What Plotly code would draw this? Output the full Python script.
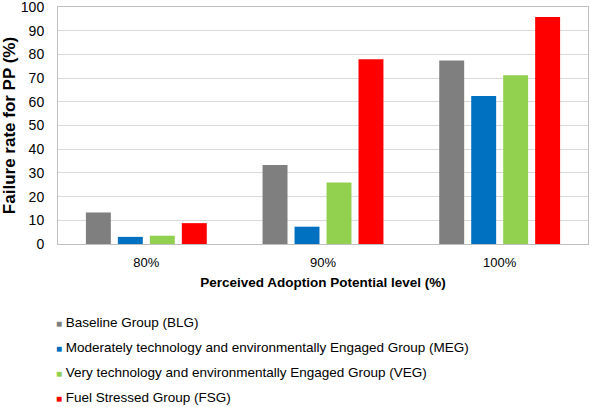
import plotly.graph_objects as go

categories = ["80%", "90%", "100%"]
series_names = [
    "Baseline Group (BLG)",
    "Moderately technology and environmentally Engaged Group (MEG)",
    "Very technology and environmentally Engaged Group (VEG)",
    "Fuel Stressed Group (FSG)",
]
blg = [13.3, 33.3, 77.4]
meg = [3.0, 7.3, 62.5]
veg = [3.5, 26.0, 71.2]
fsg = [8.8, 78.0, 95.8]
colors = ["#7f7f7f", "#0070c0", "#92d050", "#ff0000"]
y_ticks = [0, 10, 20, 30, 40, 50, 60, 70, 80, 90, 100]

fig = go.Figure()
for i, (name, vals) in enumerate(zip(series_names, [blg, meg, veg, fsg])):
    fig.add_trace(go.Bar(
        x=categories, y=vals, name=name,
        marker=dict(color=colors[i], line=dict(width=0)),
        showlegend=False,
    ))

# legend drawn as text entries (square swatch + series name)
plot_top, plot_bottom, plot_left, plot_w = 7, 244, 58, 530
row_px = [322.7, 347.5, 372.5, 397]
for i, name in enumerate(series_names):
    fig.add_annotation(
        xref="paper", yref="paper",
        x=(54 - plot_left) / plot_w, y=(plot_bottom - row_px[i]) / (plot_bottom - plot_top),
        xanchor="left", yanchor="middle", showarrow=False,
        text=f'<span style="color:{colors[i]};font-size:10px">■</span> {name}',
        font=dict(size=13.5, color="#000000"),
    )

font_family = "Liberation Sans, Arial, sans-serif"
fig.update_layout(
    width=591, height=407,
    margin=dict(l=58, r=3, t=7, b=163, autoexpand=False),
    paper_bgcolor="white", plot_bgcolor="white",
    barmode="group", bargap=0.276, bargroupgap=0.22,
    font=dict(family=font_family, color="#000000"),
    xaxis=dict(
        showline=True, linecolor="#bfbfbf", linewidth=1, mirror=True,
        tickfont=dict(size=13), ticks="", automargin=False, ticklabelstandoff=6,
        title=dict(text="<b>Perceived Adoption Potential level (%)</b>", font=dict(size=13.5), standoff=8),
    ),
    yaxis=dict(
        range=[0, 100.001], tickvals=y_ticks, showgrid=True, gridcolor="#d9d9d9", gridwidth=1,
        showline=True, linecolor="#bfbfbf", linewidth=1, mirror=True,
        tickfont=dict(size=14), ticks="", zeroline=False, automargin=False, ticklabelstandoff=10,
        ticklabeloverflow="allow",
        title=dict(text="<b>Failure rate for PP (%)</b>", font=dict(size=17), standoff=8),
    ),
    showlegend=False,
)

fig.write_html("out.html", config={"displayModeBar": False},
               post_script="document.body.style.margin='0';")
